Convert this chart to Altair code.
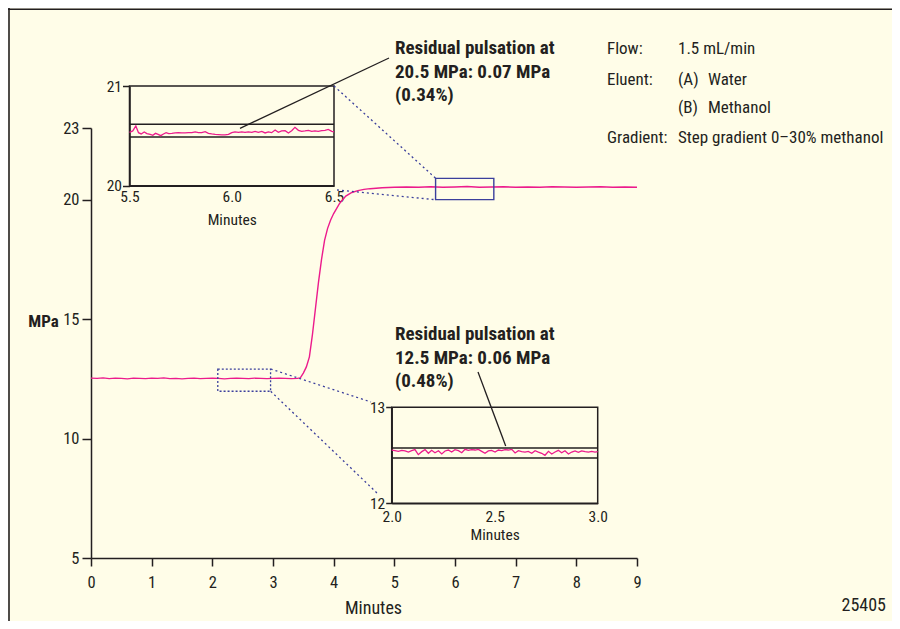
import altair as alt
import pandas as pd

# ---------------- data ----------------
main_time = [0.0, 0.1, 0.2, 0.3, 0.4, 0.5, 0.6, 0.7, 0.8, 0.9, 1.0, 1.1, 1.2, 1.3, 1.4, 1.5, 1.6, 1.7,
             1.8, 1.9, 2.0, 2.1, 2.2, 2.3, 2.4, 2.5, 2.6, 2.7, 2.8, 2.9, 3.0, 3.1, 3.2, 3.3, 3.4,
             3.45, 3.5, 3.55, 3.6, 3.65, 3.7, 3.75, 3.8, 3.85, 3.9, 3.95,
             4.0, 4.1, 4.2, 4.3, 4.4, 4.5, 4.6, 4.7, 4.8, 4.9, 5.0,
             5.2, 5.4, 5.6, 5.8, 6.0, 6.2, 6.4, 6.6, 6.8, 7.0, 7.2, 7.4, 7.6, 7.8, 8.0, 8.2, 8.4,
             8.6, 8.8, 9.0]
main_mpa = [12.53, 12.52, 12.54, 12.51, 12.53, 12.52, 12.50, 12.53, 12.52, 12.51, 12.53, 12.52,
            12.54, 12.51, 12.52, 12.50, 12.52, 12.53, 12.51, 12.52, 12.53, 12.52, 12.50, 12.52,
            12.53, 12.52, 12.51, 12.53, 12.52, 12.51, 12.52, 12.53, 12.52, 12.51, 12.52,
            12.54, 12.74, 13.0, 13.42, 14.35, 15.45, 16.55, 17.5, 18.3, 18.8, 19.15,
            19.42, 19.85, 20.15, 20.3, 20.38, 20.43, 20.46, 20.48, 20.5, 20.51, 20.52,
            20.53, 20.52, 20.54, 20.52, 20.53, 20.55, 20.52, 20.53, 20.54, 20.52, 20.53, 20.52,
            20.54, 20.53, 20.52, 20.53, 20.54, 20.52, 20.53, 20.52]

up_time = [5.500, 5.516, 5.531, 5.544, 5.557, 5.572, 5.585, 5.601, 5.614, 5.627,
           5.640, 5.653, 5.666, 5.679, 5.692, 5.707, 5.723, 5.739, 5.756, 5.772,
           5.788, 5.805, 5.821, 5.837, 5.853, 5.870, 5.886, 5.902, 5.919, 5.935,
           5.951, 5.967, 5.984, 6.000, 6.016, 6.033, 6.049, 6.065, 6.081, 6.098,
           6.114, 6.130, 6.147, 6.163, 6.179, 6.195, 6.212, 6.228, 6.244, 6.261,
           6.277, 6.293, 6.309, 6.326, 6.342, 6.358, 6.375, 6.391, 6.407, 6.423,
           6.440, 6.456, 6.472, 6.489, 6.500]
up_mpa = [20.535, 20.549, 20.599, 20.532, 20.519, 20.539, 20.522, 20.515, 20.505, 20.525,
          20.515, 20.502, 20.519, 20.532, 20.522, 20.525, 20.529, 20.532, 20.529, 20.529,
          20.532, 20.532, 20.539, 20.532, 20.532, 20.542, 20.525, 20.519, 20.515, 20.512,
          20.509, 20.509, 20.515, 20.532, 20.539, 20.535, 20.539, 20.535, 20.539, 20.535,
          20.545, 20.535, 20.545, 20.529, 20.539, 20.532, 20.559, 20.535, 20.549, 20.552,
          20.529, 20.552, 20.585, 20.555, 20.545, 20.549, 20.555, 20.545, 20.549, 20.545,
          20.552, 20.555, 20.565, 20.545, 20.539]
up_band = [20.616, 20.488]
up_window = [5.5, 6.5, 20.0, 21.0]

lo_time = [2.000, 2.016, 2.032, 2.049, 2.065, 2.081, 2.097, 2.113, 2.129, 2.146,
           2.162, 2.178, 2.194, 2.210, 2.227, 2.243, 2.259, 2.275, 2.291, 2.307,
           2.324, 2.340, 2.356, 2.372, 2.388, 2.405, 2.421, 2.437, 2.453, 2.469,
           2.485, 2.502, 2.518, 2.534, 2.550, 2.566, 2.583, 2.599, 2.615, 2.631,
           2.647, 2.663, 2.680, 2.696, 2.712, 2.728, 2.744, 2.761, 2.777, 2.793,
           2.809, 2.825, 2.841, 2.858, 2.874, 2.890, 2.906, 2.922, 2.939, 2.955,
           2.971, 2.987, 3.000]
lo_mpa = [12.555, 12.548, 12.541, 12.552, 12.545, 12.534, 12.548, 12.559, 12.507, 12.538,
          12.559, 12.521, 12.552, 12.527, 12.548, 12.514, 12.545, 12.555, 12.534, 12.559,
          12.548, 12.527, 12.562, 12.552, 12.559, 12.555, 12.562, 12.541, 12.521, 12.545,
          12.552, 12.534, 12.555, 12.548, 12.559, 12.555, 12.562, 12.524, 12.548, 12.538,
          12.534, 12.541, 12.521, 12.548, 12.534, 12.521, 12.500, 12.541, 12.514, 12.534,
          12.552, 12.527, 12.548, 12.514, 12.534, 12.545, 12.531, 12.545, 12.538, 12.534,
          12.541, 12.534, 12.538]
lo_band = [12.576, 12.472]
lo_window = [2.0, 3.0, 12.0, 13.0]

# zoomed windows marked on the main trace (t0, t1, p0, p1)
zoom_lo = [2.09, 2.96, 11.98, 12.91]
zoom_up = [5.68, 6.64, 20.0, 20.89]

main_ticks_x = [0, 1, 2, 3, 4, 5, 6, 7, 8, 9]
main_ticks_y = [5, 10, 15, 20, 23]

# ---------------- styling ----------------
BG = "#FFFDE8"
INK = "#231F20"
PINK = "#EC1B8C"
BLUE = "#3B3F9C"
FONT = "Liberation Sans Narrow, Arial Narrow, Roboto Condensed, Roboto, sans-serif"
W, H = 546, 430

main_df = pd.DataFrame({"t": main_time, "p": main_mpa})
up_df = pd.DataFrame({"t": up_time, "p": up_mpa})
lo_df = pd.DataFrame({"t": lo_time, "p": lo_mpa})
one = pd.DataFrame({"k": [0]})


def win_df(w):
    return pd.DataFrame({"t": [w[0]], "t2": [w[1]], "p": [w[2]], "p2": [w[3]]})


def band_df(band, w):
    return pd.DataFrame({"t": [w[0]] * len(band), "t2": [w[1]] * len(band), "p": band})


# ---------- main panel ----------
mx_axis = alt.Axis(values=main_ticks_x, format="d", title="Minutes", orient="bottom",
                   tickSize=8, labelPadding=8, labelFontSize=16.5, titleFontSize=18,
                   titleFontWeight="normal", titlePadding=9, titleX=282, labelFlush=False)
my_axis = alt.Axis(values=main_ticks_y, format="d", title="MPa", orient="left",
                   tickSize=9, labelPadding=3, labelFontSize=16.5, titleFontSize=17,
                   titleFontWeight="bold", titleAngle=0, titleAlign="center",
                   titleBaseline="middle", titleX=-48, titleY=193)
MX = alt.X("t:Q", scale=alt.Scale(domain=[0, 9], nice=False, zero=False), axis=mx_axis)
MY = alt.Y("p:Q", scale=alt.Scale(domain=[5, 23], nice=False, zero=False), axis=my_axis)

main_line = alt.Chart(main_df).mark_line(color=PINK, strokeWidth=1.4).encode(x=MX, y=MY)
zlo = alt.Chart(win_df(zoom_lo)).mark_rect(fillOpacity=0, stroke=BLUE, strokeWidth=1.3,
                                           strokeDash=[2, 2]).encode(
    x=MX, x2="t2:Q", y=MY, y2="p2:Q")
zup = alt.Chart(win_df(zoom_up)).mark_rect(fillOpacity=0, stroke=BLUE, strokeWidth=1.4).encode(
    x=MX, x2="t2:Q", y=MY, y2="p2:Q")
main_layer = alt.layer(main_line, zlo, zup)


# ---------- insets ----------
def inset(df, band, w, xrange, yrange, xvals, yvals, x_off, y_off, lab_pad, title_pad, tick):
    xa = alt.Axis(values=xvals, format=".1f", title="Minutes", orient="bottom", offset=x_off,
                  ticks=False, tickSize=0, labelPadding=lab_pad, labelFontSize=15.5,
                  titleFontSize=15.5, titlePadding=title_pad, labelFlush=False,
                  titleFontWeight="normal")
    ya = alt.Axis(values=yvals, format="d", title=None, orient="left", offset=y_off,
                  tickSize=tick, labelPadding=1, labelFontSize=15.5, labelFlush=False)
    X = alt.X("t:Q", scale=alt.Scale(domain=[w[0], w[1]], range=xrange, nice=False, zero=False), axis=xa)
    Y = alt.Y("p:Q", scale=alt.Scale(domain=[w[2], w[3]], range=yrange, nice=False, zero=False), axis=ya)
    frame = alt.Chart(win_df(w)).mark_rect(fillOpacity=0, stroke=INK, strokeWidth=1.5).encode(
        x=X, x2="t2:Q", y=Y, y2="p2:Q")
    rules = alt.Chart(band_df(band, w)).mark_rule(color=INK, strokeWidth=1.4).encode(
        x=X, x2="t2:Q", y=Y)
    trace = alt.Chart(df).mark_line(color=PINK, strokeWidth=1.3).encode(x=X, y=Y)
    return alt.layer(frame, rules, trace)


up_layer = inset(up_df, up_band, up_window, [38.5, 243], [57.7, -42], [5.5, 6.0, 6.5], [20, 21],
                 -372.3, -38.5, 4, 7, 7)
lo_layer = inset(lo_df, lo_band, lo_window, [300.7, 506.7], [375.3, 279.3], [2.0, 2.5, 3.0],
                 [12, 13], -54.7, -300.7, 6, 3, 6)


# ---------- decorations (pixel positions) ----------
def seg(x1, y1, x2, y2, color=INK, width=1.3, dash=None):
    kw = dict(color=color, strokeWidth=width)
    if dash:
        kw["strokeDash"] = dash
    return alt.Chart(one).mark_rule(**kw).encode(
        x=alt.value(x1), y=alt.value(y1), x2=alt.value(x2), y2=alt.value(y2))


def txt(x, y, s, size=17, weight="normal", align="left", lh=23.5):
    return alt.Chart(one).mark_text(align=align, baseline="alphabetic", font=FONT, fontSize=size,
                                    fontWeight=weight, color=INK, lineBreak="\n",
                                    lineHeight=lh).encode(
        x=alt.value(x), y=alt.value(y), text=alt.value(s))


deco = [
    # frame of the figure
    seg(-82, -120, -82, 493, width=1.6),
    seg(-83, -118.7, 801, -118.7, width=1.6),
    # dotted connectors
    seg(243, -42, 344.7, 50.3, BLUE, 1.3, [2, 3]),
    seg(246, 62, 344.7, 71.7, BLUE, 1.3, [2, 3]),
    seg(179.7, 241, 280, 274, BLUE, 1.3, [2, 3]),
    seg(179.7, 263.3, 286, 365, BLUE, 1.3, [2, 3]),
    # annotation pointers
    seg(149, 0.3, 298, -70, INK, 1.3),
    seg(414.7, 318, 387, 244, INK, 1.3),
    # annotation texts
    txt(304, -74, "Residual pulsation at\n20.5 MPa: 0.07 MPa\n(0.34%)", 19, "bold"),
    txt(304, 212, "Residual pulsation at\n12.5 MPa: 0.06 MPa\n(0.48%)", 19, "bold"),
    # method conditions
    txt(516, -74, "Flow:"),
    txt(587, -74, "1.5 mL/min"),
    txt(516, -43, "Eluent:"),
    txt(587, -43, "(A)"),
    txt(617, -43, "Water"),
    txt(587, -15, "(B)"),
    txt(617, -15, "Methanol"),
    txt(516, 15, "Gradient:"),
    txt(587, 15, "Step gradient 0\u201330% methanol"),
    txt(795, 483, "25405", 18, align="right"),
]

chart = alt.layer(main_layer, up_layer, lo_layer, *deco).resolve_scale(
    x="independent", y="independent"
).properties(
    width=W, height=H,
    padding={"left": 83, "top": 120, "right": 884 - 83 - W, "bottom": 613 - 120 - H},
    autosize=alt.AutoSizeParams(type="none"),
    background=BG,
).configure_view(stroke=None).configure_axis(
    grid=False, domainColor=INK, tickColor=INK, labelColor=INK, titleColor=INK,
    labelFont=FONT, titleFont=FONT, domainWidth=1.5, tickWidth=1.5,
)

chart.save("out.html", embed_options={"renderer": "svg", "actions": False})
